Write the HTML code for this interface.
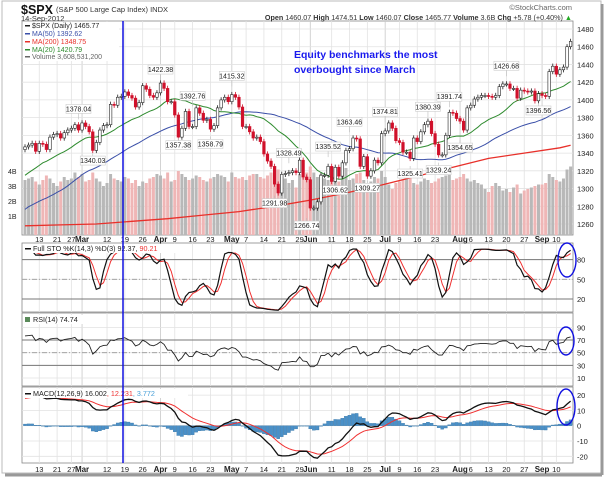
<!DOCTYPE html>
<html><head><meta charset="utf-8"><style>
html,body{margin:0;padding:0;background:#fff;}
svg{display:block;font-family:"Liberation Sans",sans-serif;}
</style></head><body>
<svg id="chart" width="609" height="479" viewBox="0 0 609 479" xmlns="http://www.w3.org/2000/svg">
<rect x="0" y="0" width="609" height="479" fill="#fff"/>
<rect x="2" y="1" width="599" height="472" fill="none" stroke="#bbb"/>
<line x1="602" y1="4" x2="602" y2="475" stroke="#999" stroke-width="3"/>
<line x1="5" y1="475" x2="602" y2="475" stroke="#999" stroke-width="3"/>
<g id="grid"></g>
<g id="marks"></g>
<g id="overlay"></g>
</svg>
<script>
// ---------- data ----------
const priorCloses=[1192,1195,1247,1244,1244,1257,1258,1253,1261,1243,1255,1236,1225,1212,1215,1220,1205,1243,1254,1266,1265,1265,1249,1263,1258,
1277,1281,1281,1278,1280,1292,1292,1296,1289,1293,1293,1308,1314,1315,1316,1314,1326,1319,1316,1313,1312,1324,1325,1344,1344];
const closes=[1347,1349,1351,1342,1351,1350,1344,1358,1361,1362,1357,1363,1366,1368,1372,1366,
1374,1370,1364,1343,1352,1366,1371,1372,1395,1394,1403,1404,1409,1405,1402,1392,1397,1416,1412,1405,1403,1408,
1419,1413,1398,1398,1383,1358,1368,1387,1370,1370,1391,1385,1377,1378,1367,1371,1391,1400,1403,1398,
1406,1403,1392,1370,1370,1364,1357,1358,1353,1339,1331,1325,1305,1295,1316,1317,1318,1320,1318,1332,1313,1310,
1278,1278,1285,1315,1315,1325,1308,1324,1314,1329,1343,1345,1357,1356,1325,1336,1314,1320,1332,1329,1362,
1365,1374,1368,1354,1352,1341,1341,1334,1357,1353,1364,1372,1376,1362,1350,1338,1338,1360,1386,1385,1379,
1376,1366,1391,1394,1401,1403,1405,1405,1404,1403,1405,1415,1418,1418,1413,1413,1402,1411,1410,1409,1410,1399,1407,
1405,1404,1432,1438,1429,1434,1437,1460,1466];
const volumes=[3.4,3.5,3.6,3.3,3.1,3.4,3.7,3.5,3.2,3.0,3.3,3.6,3.4,3.5,3.9,3.6,
3.8,3.3,3.4,3.9,3.5,3.3,3.0,3.2,3.8,3.5,3.4,3.3,3.6,3.5,3.2,3.4,3.0,3.3,3.2,3.5,3.6,3.8,
3.7,3.5,3.9,3.3,3.4,4.0,3.8,3.6,3.4,3.5,3.7,3.6,3.4,3.3,3.5,3.6,3.8,3.7,3.6,3.3,
3.9,3.6,3.5,3.6,3.4,3.7,3.8,3.8,3.6,3.5,3.7,3.9,4.0,4.1,3.6,3.5,3.2,3.4,2.9,3.8,3.6,3.9,
4.3,3.9,3.6,3.8,3.5,3.4,3.5,3.7,3.3,3.8,4.2,3.4,3.5,3.8,3.9,3.4,3.0,3.3,3.6,3.5,4.0,
3.6,3.1,2.8,3.2,3.3,3.4,3.5,3.6,3.2,3.1,3.3,3.5,3.4,3.2,3.3,3.5,3.6,3.7,3.9,3.4,3.5,
3.6,3.8,3.5,3.3,3.4,3.2,3.1,2.8,2.6,3.0,3.2,3.0,2.7,2.8,2.6,2.9,3.1,2.5,2.7,2.8,2.9,3.0,3.1,
3.1,3.2,3.8,3.6,3.4,3.3,3.5,4.1,4.3];
const ma200Idx=[0,10,20,30,40,50,60,70,80,90,100,110,120,130,140,150,153];
const ma200Val=[1258,1259,1260,1263,1266,1270,1274,1280,1287,1295,1304,1314,1324,1334,1340,1346,1348.75];
const peakIdx=[15,19,38,43,47,52,58,74,70,79,85,87,91,96,101,108,113,116,119,122,135,144];
const peakVal=[1378.04,1340.03,1422.38,1357.38,1392.76,1358.79,1415.32,1328.49,1291.98,1266.74,1335.52,1306.62,1363.46,1309.27,1374.81,1325.41,1380.39,1329.24,1391.74,1354.65,1426.68,1396.56];
const peakAbove=[1,0,1,0,1,0,1,1,0,0,1,0,1,0,1,0,1,0,1,0,1,0];
const dateIdx=[4,9,13,16,23,28,33,38,42,47,52,58,62,67,72,77,80,86,91,96,101,105,110,115,122,125,130,135,140,145,149];
const dateText=["13","21","27","Mar","12","19","26","Apr","9","16","23","May","7","14","21","29","Jun","11","18","25","Jul","9","16","23","Aug","6","13","20","27","Sep","10"];
const dateBold=[0,0,0,1,0,0,0,1,0,0,0,1,0,0,0,0,1,0,0,0,1,0,0,0,1,0,0,0,0,1,0];
const priceTicks=[1260,1280,1300,1320,1340,1360,1380,1400,1420,1440,1460,1480];
const volTicks=[1,2,3,4];
const stoTicks=[80,50,20];
const rsiTicks=[90,70,50,30,10];
const macdTicks=[20,10,0,-10,-20];

// ---------- scales ----------
const L=22,R=573;
const xS=i=>25+i*3.566;
const yP=p=>29+(1480-p)*0.8864;
const yV=v=>231-v*15;
const ySto=v=>299-(v-20)*0.657;
const yRsi=v=>378-(v-10)*0.633;
const yMacd=v=>425.7-v*1.53;
const P={main:[21,235],sto:[243,312],rsi:[313,386],macd:[387,463]};

const NS="http://www.w3.org/2000/svg";
const grid=document.getElementById('grid'),marks=document.getElementById('marks'),ov=document.getElementById('overlay');
function mk(parent,tag,attrs,text){const e=document.createElementNS(NS,tag);for(const k in attrs)e.setAttribute(k,attrs[k]);if(text!==undefined)e.textContent=text;parent.appendChild(e);return e;}

// ---------- indicators ----------
const all=priorCloses.concat(closes),off=priorCloses.length,N=closes.length;
const opens=closes.map((c,i)=>i===0?priorCloses[off-1]:closes[i-1]);
const highs=closes.map((c,i)=>Math.max(c,opens[i])+3);
const lows=closes.map((c,i)=>Math.min(c,opens[i])-3);
function sma(n){return closes.map((c,i)=>{let s=0;for(let k=0;k<n;k++)s+=all[off+i-k];return s/n;});}
const ma20=sma(20),ma50=sma(50);
function emaAll(arr,n){const a=2/(n+1);const out=[];let e=arr[0];arr.forEach((v,i)=>{e=i===0?v:v*a+e*(1-a);out.push(e);});return out;}
const e12=emaAll(all,12),e26=emaAll(all,26);
const macdAll=all.map((v,i)=>e12[i]-e26[i]);
const sigAll=emaAll(macdAll,9);
const macd=closes.map((c,i)=>macdAll[off+i]),sig=closes.map((c,i)=>sigAll[off+i]);
// RSI wilder
let ag=0,al=0;const rsiAll=[];
for(let i=1;i<all.length;i++){const d=all[i]-all[i-1];const g=Math.max(d,0),l=Math.max(-d,0);
 if(i<=14){ag+=g/14;al+=l/14;}else{ag=(ag*13+g)/14;al=(al*13+l)/14;}rsiAll[i]=100-100/(1+ag/(al||1e-9));}
const rsi=closes.map((c,i)=>rsiAll[off+i]);
// full stochastic
const hAll=priorCloses.map(v=>v+4).concat(highs),lAll=priorCloses.map(v=>v-4).concat(lows);
const fast=all.map((c,i)=>{if(i<13)return 50;let hh=-1e9,ll=1e9;for(let k=0;k<14;k++){hh=Math.max(hh,hAll[i-k]);ll=Math.min(ll,lAll[i-k]);}return 100*(c-ll)/(hh-ll);});
const fullK=all.map((v,i)=>i<2?v:(fast[i]+fast[i-1]+fast[i-2])/3);
const fullD=all.map((v,i)=>i<2?v:(fullK[i]+fullK[i-1]+fullK[i-2])/3);
const stoK=closes.map((c,i)=>fullK[off+i]),stoD=closes.map((c,i)=>fullD[off+i]);

// ---------- panels & grid ----------
for(const k in P){const r=mk(grid,'rect',{x:L,y:P[k][0],width:R-L,height:P[k][1]-P[k][0],fill:'#fff',stroke:'#888','stroke-width':0.8});
}
dateIdx.forEach((d,j)=>{for(const k in P){mk(grid,'line',{x1:xS(d),x2:xS(d),y1:P[k][0],y2:P[k][1],stroke:dateBold[j]?'#c8c8c8':'#e2e2e2','stroke-width':0.8});}});
priceTicks.forEach(t=>{mk(grid,'line',{x1:L,x2:R,y1:yP(t),y2:yP(t),stroke:'#e2e2e2','stroke-width':0.8});
 const e=mk(grid,'text',{x:577,y:yP(t)+3,'font-size':7.5,fill:'#222'},t);});
volTicks.forEach(t=>{const e=mk(grid,'text',{x:8,y:yV(t)+3,'font-size':7,fill:'#222'},t+'B');});
[[stoTicks,ySto,'sto'],[rsiTicks,yRsi,'rsi'],[macdTicks,yMacd,'macd']].forEach(([ticks,f,nm])=>{ticks.forEach(t=>{
 mk(grid,'line',{x1:L,x2:R,y1:f(t),y2:f(t),stroke:'#e2e2e2','stroke-width':0.8});
 const e=mk(grid,'text',{x:577,y:f(t)+3,'font-size':7.5,fill:'#222'},t);});});
// reference lines
[[ySto(80),0],[ySto(20),0],[ySto(50),1],[yRsi(70),0],[yRsi(30),0],[yRsi(50),1]].forEach(([y,d])=>{
 const a={x1:L,x2:R,y1:y,y2:y,stroke:d?'#999':'#777','stroke-width':d?0.8:1};if(d)a['stroke-dasharray']='5,2,1,2';mk(grid,'line',a);});
// date labels
dateIdx.forEach((d,j)=>{[239,469].forEach(y=>{const e=mk(grid,'text',{x:xS(d),y:y+3,'font-size':dateBold[j]?8:7.5,'font-weight':dateBold[j]?'bold':'normal','text-anchor':'middle',fill:'#222'},dateText[j]);
 });});

// ---------- volume ----------
volumes.forEach((v,i)=>{const up=closes[i]>=opens[i];const r=mk(marks,'rect',{x:xS(i)-1.5,y:yV(v),width:3,height:231-yV(v)+4,fill:up?'#b8b8b8':'#efb6b6'});
});
// ---------- MAs ----------
function line(parent,vals,f,color,w,name,idx){const pts=vals.map((v,i)=>xS(idx?idx[i]:i).toFixed(1)+','+f(v).toFixed(1)).join(' ');
 const e=mk(parent,'polyline',{points:pts,fill:'none',stroke:color,'stroke-width':w});return e;}
line(marks,ma200Val,yP,'#e8302a',1.3,'ma200-line',ma200Idx);
line(marks,ma50,yP,'#3a4fa8',1,'ma50-line');
line(marks,ma20,yP,'#2e8b2e',1,'ma20-line');
// ---------- candles ----------
closes.forEach((c,i)=>{const o=opens[i],up=c>=o,x=xS(i);
 mk(marks,'line',{x1:x,x2:x,y1:yP(highs[i]),y2:yP(lows[i]),stroke:up?'#222':'#d0102a','stroke-width':0.8});
 const t=yP(Math.max(o,c)),h=Math.max(1,Math.abs(yP(o)-yP(c)));
 const r=mk(marks,'rect',{x:x-1.3,y:t,width:2.6,height:h,fill:up?'#fff':'#d0102a',stroke:up?'#222':'#d0102a','stroke-width':0.6});
 });
// peak labels
peakVal.forEach((v,j)=>{const x=xS(peakIdx[j]),y=peakAbove[j]?yP(v)-8:yP(v)+10;const s=v.toFixed(2);
 mk(marks,'line',{x1:x,x2:x,y1:yP(v),y2:peakAbove[j]?y+2:y-7,stroke:'#bbb','stroke-width':0.6});
 mk(marks,'rect',{x:x-12.5,y:y-7,width:25,height:9,fill:'#fff',stroke:'#ccc','stroke-width':0.6});
 const e=mk(marks,'text',{x:x,y:y,'font-size':7,'text-anchor':'middle',fill:'#222'},s);});
// ---------- sto ----------
line(marks,stoD,ySto,'#f03030',1,'sto-d-line');
line(marks,stoK,ySto,'#111',1.2,'sto-k-line');
// ---------- rsi ----------
line(marks,rsi,yRsi,'#222',0.9,'rsi-line');
// ---------- macd ----------
closes.forEach((c,i)=>{const h=macd[i]-sig[i],y0=yMacd(0),y1=yMacd(h);
 const r=mk(marks,'rect',{x:xS(i)-1.6,y:Math.min(y0,y1),width:3.2,height:Math.max(0.5,Math.abs(y1-y0)),fill:'#4a90c8',stroke:'#2f6e9e','stroke-width':0.3});
 });
line(marks,sig,yMacd,'#f03030',1,'macd-signal-line');
line(marks,macd,yMacd,'#111',1.3,'macd-line');
</script>
<script>
// ---------- static overlay ----------
(function(){
const NS="http://www.w3.org/2000/svg",ov=document.getElementById('overlay');
function mk(tag,attrs,html){const e=document.createElementNS(NS,tag);for(const k in attrs)e.setAttribute(k,attrs[k]);if(html!==undefined)e.innerHTML=html;ov.appendChild(e);return e;}
mk('rect',{x:23,y:22,width:96,height:39,fill:'#fff'});
const t=[
 ['$SPX (Daily) 1465.77','#222',28],['MA(50) 1392.62','#3a4fa8',36],['MA(200) 1348.75','#e8302a',44],['MA(20) 1420.79','#2e8b2e',52],['Volume 3,608,531,200','#666',59]];
t.forEach(([s,c,y],j)=>{const e=mk('text',{x:32,y:y,'font-size':7,fill:c},s);
 mk('rect',{x:25,y:y-3,width:5,height:1.5,fill:c});});
})();
</script>
<svg width="0" height="0"></svg>
<script>
(function(){
const svg=document.getElementById('chart'),NS="http://www.w3.org/2000/svg";
function mk(tag,attrs,html){const e=document.createElementNS(NS,tag);for(const k in attrs)e.setAttribute(k,attrs[k]);if(html!==undefined)e.innerHTML=html;svg.appendChild(e);return e;}
let e;
e=mk('text',{x:21,y:14,'font-size':12.5,'font-weight':'bold',fill:'#111'},'$SPX');
e=mk('text',{x:56,y:12,'font-size':7.5,fill:'#333'},'(S&amp;P 500 Large Cap Index) INDX');
e=mk('text',{x:21,y:21,'font-size':7.5,fill:'#333'},'14-Sep-2012');
e=mk('text',{x:572,y:10,'font-size':7.5,fill:'#666','text-anchor':'end'},'©StockCharts.com');
e=mk('text',{x:572,y:20,'font-size':7.2,fill:'#333','text-anchor':'end'},'<tspan font-weight="bold">Open</tspan> 1460.07 <tspan font-weight="bold">High</tspan> 1474.51 <tspan font-weight="bold">Low</tspan> 1460.07 <tspan font-weight="bold">Close</tspan> 1465.77 <tspan font-weight="bold">Volume</tspan> 3.6B <tspan font-weight="bold">Chg</tspan> +5.78 (+0.40%) <tspan fill="#2a2">▲</tspan>');

e=mk('text',{x:294,y:58,'font-size':10.5,'font-weight':'bold',fill:'#1a1aee'},'Equity benchmarks the most');
e=mk('text',{x:294,y:73,'font-size':10.5,'font-weight':'bold',fill:'#1a1aee'},'overbought since March');
// indicator headers
mk('rect',{x:23,y:244,width:165,height:9,fill:'#fff'});
e=mk('text',{x:33,y:251,'font-size':7.2,fill:'#222'},'Full STO %K(14,3) %D(3) 92.37, <tspan fill="#e33">90.21</tspan>');
mk('rect',{x:25,y:248,width:6,height:1.5,fill:'#111'});
mk('rect',{x:23,y:315,width:70,height:9,fill:'#fff'});
e=mk('text',{x:33,y:322,'font-size':7.2,fill:'#222'},'RSI(14) 74.74');
mk('rect',{x:25,y:317,width:5,height:5,fill:'#5a8a5a'});
mk('rect',{x:23,y:389,width:165,height:9,fill:'#fff'});
e=mk('text',{x:33,y:396,'font-size':7.2,fill:'#222'},'MACD(12,26,9) 16.002<tspan fill="#e33">, 12.231</tspan><tspan fill="#4aa0d8">, 3.772</tspan>');
mk('rect',{x:25,y:393,width:6,height:1.5,fill:'#111'});
// blue marker line and ellipses
e=mk('line',{x1:123,x2:123,y1:21,y2:463,stroke:'#1010e0','stroke-width':1.5});
[[567,260,9,17],[566,341,8,14],[566,407,9,18]].forEach(([cx,cy,rx,ry])=>{const el=mk('ellipse',{cx,cy,rx,ry,fill:'none',stroke:'#1010e0','stroke-width':1.4});
});
})();
</script>
</body></html>
